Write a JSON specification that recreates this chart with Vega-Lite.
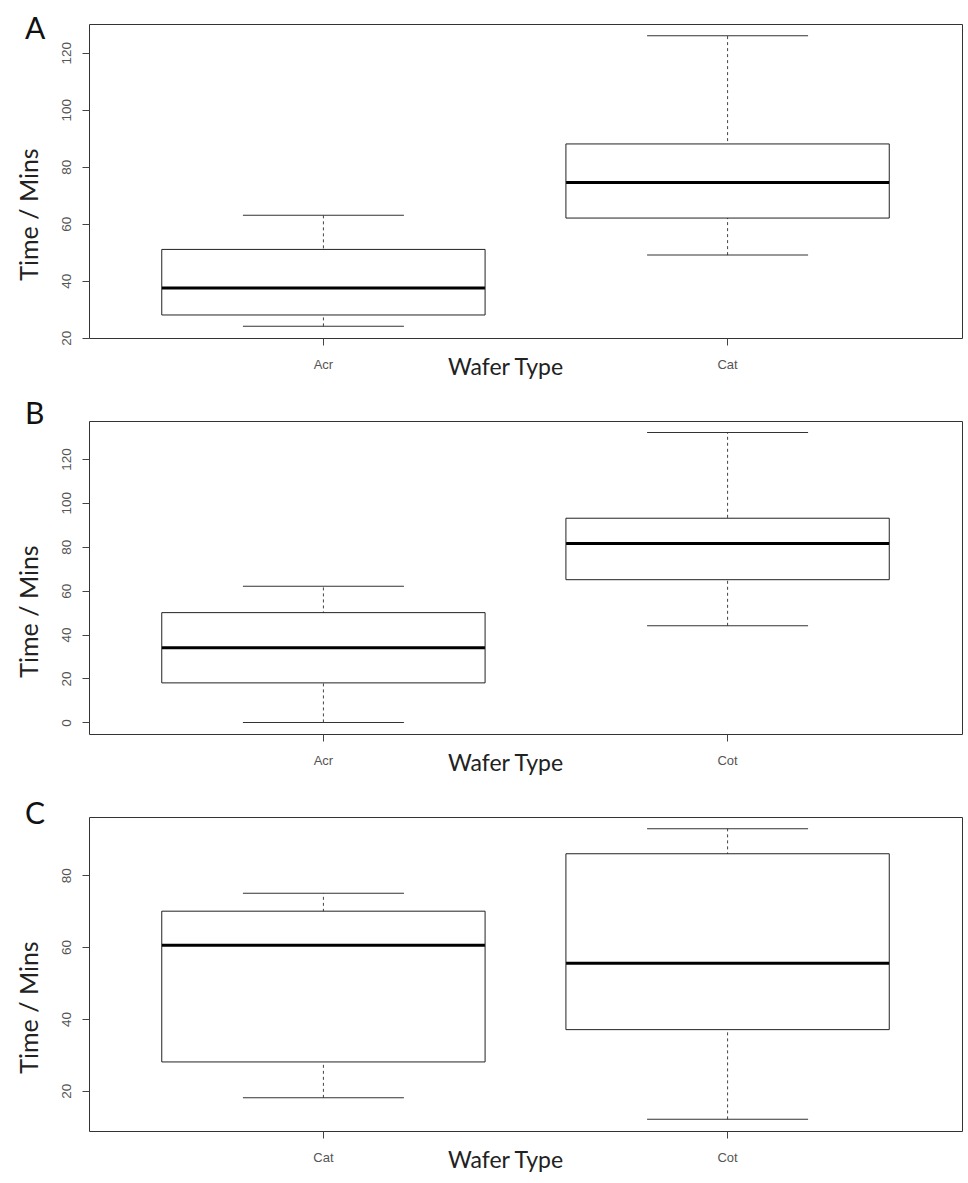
{
  "$schema": "https://vega.github.io/schema/vega-lite/v6.json",
  "padding": {"left": 16, "top": 14, "right": 0, "bottom": 0},
  "background": "white",
  "bounds": "flush",
  "spacing": 83,
  "datasets": {
    "boxes": [
      {"panel": "A", "type": "Acr", "wlo": 24, "q1": 28, "med": 37.5, "q3": 51, "whi": 63},
      {"panel": "A", "type": "Cat", "wlo": 49, "q1": 62, "med": 74.5, "q3": 88, "whi": 126},
      {"panel": "B", "type": "Acr", "wlo": 0, "q1": 18, "med": 34, "q3": 50, "whi": 62},
      {"panel": "B", "type": "Cot", "wlo": 44, "q1": 65, "med": 81.5, "q3": 93, "whi": 132},
      {"panel": "C", "type": "Cat", "wlo": 18, "q1": 28, "med": 60.5, "q3": 70, "whi": 75},
      {"panel": "C", "type": "Cot", "wlo": 12, "q1": 37, "med": 55.5, "q3": 86, "whi": 93}
    ]
  },
  "data": {"name": "boxes"},
  "vconcat": [
    {
      "width": 873, "height": 314,
      "title": {"text": "A", "orient": "top", "anchor": "start", "frame": "bounds", "baseline": "alphabetic", "offset": -14, "dx": 8, "dy": 31, "fontSize": 30, "font": "Lato", "fontWeight": "normal", "color": "#111"},
      "transform": [{"filter": "datum.panel === 'A'"}],
      "encoding": {"x": {"field": "type", "type": "nominal", "title": "Wafer Type", "scale": {"type": "band", "paddingInner": 0, "paddingOuter": 0.08}}},
      "layer": [
        {"mark": {"type": "rule", "strokeDash": [3, 3], "color": "#444", "strokeWidth": 1},
         "encoding": {"y": {"field": "wlo", "type": "quantitative", "title": "Time / Mins", "scale": {"domain": [19.92, 130.08], "nice": false, "zero": false}, "axis": {"values": [20, 40, 60, 80, 100, 120]}}, "y2": {"field": "whi"}}},
        {"mark": {"type": "tick", "size": 161, "thickness": 1, "color": "#333", "opacity": 1}, "encoding": {"y": {"field": "wlo", "type": "quantitative", "title": "Time / Mins"}}},
        {"mark": {"type": "tick", "size": 161, "thickness": 1, "color": "#333", "opacity": 1}, "encoding": {"y": {"field": "whi", "type": "quantitative", "title": "Time / Mins"}}},
        {"mark": {"type": "bar", "fill": "white", "stroke": "#222", "strokeWidth": 1, "width": {"band": 0.8}}, "encoding": {"y": {"field": "q1", "type": "quantitative", "title": "Time / Mins"}, "y2": {"field": "q3"}}},
        {"mark": {"type": "tick", "size": 323, "thickness": 3, "color": "#000", "opacity": 1}, "encoding": {"y": {"field": "med", "type": "quantitative", "title": "Time / Mins"}}}
      ]
    },
    {
      "width": 873, "height": 313,
      "title": {"text": "B", "orient": "top", "anchor": "start", "frame": "bounds", "baseline": "alphabetic", "offset": -4, "dx": 8, "dy": 29, "fontSize": 30, "font": "Lato", "fontWeight": "normal", "color": "#111"},
      "transform": [{"filter": "datum.panel === 'B'"}],
      "encoding": {"x": {"field": "type", "type": "nominal", "title": "Wafer Type", "scale": {"type": "band", "paddingInner": 0, "paddingOuter": 0.08}}},
      "layer": [
        {"mark": {"type": "rule", "strokeDash": [3, 3], "color": "#444", "strokeWidth": 1},
         "encoding": {"y": {"field": "wlo", "type": "quantitative", "title": "Time / Mins", "scale": {"domain": [-5.28, 137.28], "nice": false, "zero": false}, "axis": {"values": [0, 20, 40, 60, 80, 100, 120]}}, "y2": {"field": "whi"}}},
        {"mark": {"type": "tick", "size": 161, "thickness": 1, "color": "#333", "opacity": 1}, "encoding": {"y": {"field": "wlo", "type": "quantitative", "title": "Time / Mins"}}},
        {"mark": {"type": "tick", "size": 161, "thickness": 1, "color": "#333", "opacity": 1}, "encoding": {"y": {"field": "whi", "type": "quantitative", "title": "Time / Mins"}}},
        {"mark": {"type": "bar", "fill": "white", "stroke": "#222", "strokeWidth": 1, "width": {"band": 0.8}}, "encoding": {"y": {"field": "q1", "type": "quantitative", "title": "Time / Mins"}, "y2": {"field": "q3"}}},
        {"mark": {"type": "tick", "size": 323, "thickness": 3, "color": "#000", "opacity": 1}, "encoding": {"y": {"field": "med", "type": "quantitative", "title": "Time / Mins"}}}
      ]
    },
    {
      "width": 873, "height": 314,
      "title": {"text": "C", "orient": "top", "anchor": "start", "frame": "bounds", "baseline": "alphabetic", "offset": -6, "dx": 8, "dy": 31, "fontSize": 30, "font": "Lato", "fontWeight": "normal", "color": "#111"},
      "transform": [{"filter": "datum.panel === 'C'"}],
      "encoding": {"x": {"field": "type", "type": "nominal", "title": "Wafer Type", "scale": {"type": "band", "paddingInner": 0, "paddingOuter": 0.08}}},
      "layer": [
        {"mark": {"type": "rule", "strokeDash": [3, 3], "color": "#444", "strokeWidth": 1},
         "encoding": {"y": {"field": "wlo", "type": "quantitative", "title": "Time / Mins", "scale": {"domain": [8.76, 96.24], "nice": false, "zero": false}, "axis": {"values": [20, 40, 60, 80]}}, "y2": {"field": "whi"}}},
        {"mark": {"type": "tick", "size": 161, "thickness": 1, "color": "#333", "opacity": 1}, "encoding": {"y": {"field": "wlo", "type": "quantitative", "title": "Time / Mins"}}},
        {"mark": {"type": "tick", "size": 161, "thickness": 1, "color": "#333", "opacity": 1}, "encoding": {"y": {"field": "whi", "type": "quantitative", "title": "Time / Mins"}}},
        {"mark": {"type": "bar", "fill": "white", "stroke": "#222", "strokeWidth": 1, "width": {"band": 0.8}}, "encoding": {"y": {"field": "q1", "type": "quantitative", "title": "Time / Mins"}, "y2": {"field": "q3"}}},
        {"mark": {"type": "tick", "size": 323, "thickness": 3, "color": "#000", "opacity": 1}, "encoding": {"y": {"field": "med", "type": "quantitative", "title": "Time / Mins"}}}
      ]
    }
  ],
  "config": {
    "view": {"stroke": "#333", "strokeWidth": 1},
    "axis": {"domain": false, "grid": false, "tickColor": "#444", "tickSize": 7, "labelColor": "#555", "labelFont": "Liberation Sans", "titleFont": "Lato", "titleFontWeight": "normal", "titleColor": "#222"},
    "axisY": {"labelFontSize": 13.5, "labelAngle": 270, "labelAlign": "center", "labelBaseline": "alphabetic", "labelPadding": 12, "titleFontSize": 25, "titleAngle": 270, "titleBaseline": "alphabetic", "titleAlign": "center", "titleY": 190, "titleX": -52},
    "axisX": {"labelFontSize": 13, "labelAngle": 0, "labelPadding": 13, "titleFontSize": 23, "titleBaseline": "alphabetic", "titleY": 36, "titleX": 416, "titleAlign": "center"}
  }
}
